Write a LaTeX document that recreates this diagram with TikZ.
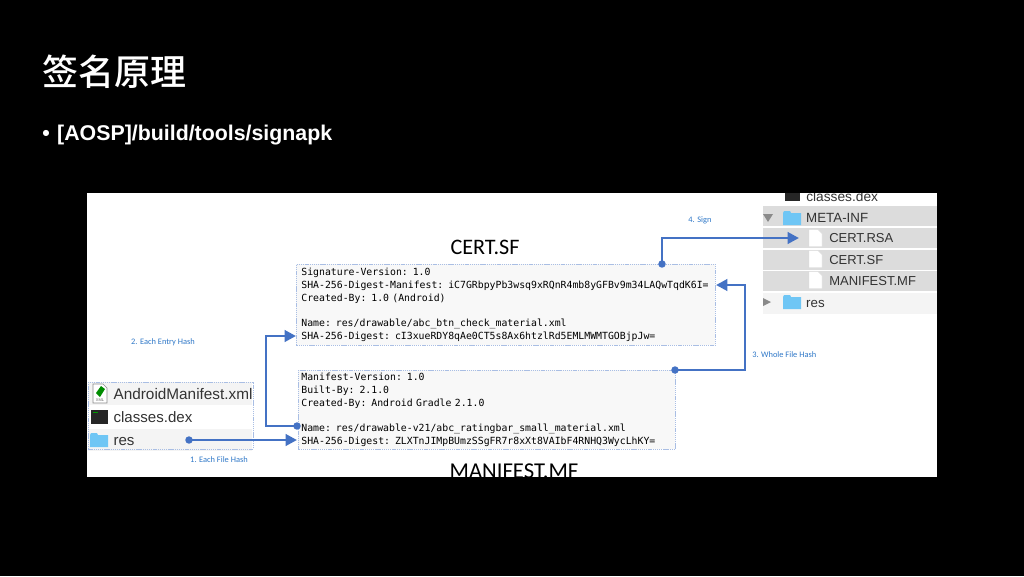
\documentclass[tikz,border=0pt]{standalone}
\usepackage{fontspec}
\usepackage{xcolor}
\usetikzlibrary{arrows.meta,positioning}
\setmainfont{Liberation Sans}
\setmonofont{DejaVu Sans Mono}
\newfontfamily\cjkfont{Noto Sans CJK SC}[BoldFont=* Medium]
\newfontfamily\slidefont{Carlito}
\definecolor{SigBlue}{HTML}{4472C4}
\definecolor{SigLabel}{HTML}{2F78C8}
\definecolor{SigEdge}{HTML}{A9BEE4}
\definecolor{SigPaper}{HTML}{F8F8F8}
\definecolor{SigRow}{HTML}{F4F4F4}
\definecolor{SigSel}{HTML}{DCDCDC}
\definecolor{SigFolder}{HTML}{6FC6F5}
\definecolor{SigGray}{HTML}{8A8A8A}

\begin{document}
\begin{tikzpicture}[
    x=0.75pt,y=-0.75pt,
    node distance=1.5pt and 0pt,
    edgeline/.style={draw=SigEdge,dash pattern=on 1pt off 0.6pt,line width=0.6pt},
    codebox/.style={edgeline,fill=SigPaper,
                align=left,anchor=north west,inner xsep=1pt,inner ysep=0pt,
                font=\ttfamily\fontsize{7.37}{9.6}\selectfont,text=black},
    filerow/.style={anchor=north west,inner sep=0pt,minimum width=130.5pt},
    leftrow/.style={anchor=north west,inner sep=0pt,minimum width=123pt,minimum height=16.8pt},
    filename/.style={anchor=west,inner sep=0pt,text=black!80},
    heading/.style={font=\slidefont\fontsize{16.6}{18}\selectfont,text=black,inner sep=0pt},
    steplabel/.style={font=\slidefont\fontsize{6.3}{8}\selectfont,text=SigLabel,inner sep=0pt},
    flowdot/.style={circle,fill=SigBlue,inner sep=0pt,minimum size=5.6pt},
    flow/.style={-{Triangle[length=8.5pt,width=8.5pt]},SigBlue,line width=2.2pt},
    folderpic/.pic={
      \fill[SigFolder] (0,2) -- (0,14) -- (18,14) -- (18,2) -- (8,2) -- (7,0) -- (1,0) -- cycle;
    },
    docpic/.pic={
      \fill[white,draw=black!15,line width=0.3pt] (0,0) -- (9,0) -- (13,4) -- (13,17) -- (0,17) -- cycle;
    }]

    \fill[black] (0,0) rectangle (1024,576);

    \node[anchor=base west,inner sep=0pt,text=white,
          font=\cjkfont\bfseries\fontsize{27}{30}\selectfont] (title) at (42,85) {签名原理};
    \node[anchor=base west,inner sep=0pt,text=white,
          font=\bfseries\fontsize{16}{18}\selectfont] (path) at (42,140)
      {•\hspace{1.2pt} [AOSP]/build/tools/signapk};

    \begin{scope}
      \clip (87,193) rectangle (937,477);
      \fill[white] (87,193) rectangle (937,477);

      % finder panel on the right
      \fill[black!85] (785,190) rectangle (800,201);
      \node[filename,font=\fontsize{10.3}{11}\selectfont] (dexout) at (806,197) {classes.dex};
      \node[filerow,fill=SigSel,minimum height=15pt] (rowmeta) at (763,206) {};
      \node[filerow,fill=SigSel,minimum height=15pt,below=1pt of rowmeta.south west,anchor=north west] (rowrsa) {};
      \node[filerow,fill=SigSel,minimum height=15pt,below=0.8pt of rowrsa.south west,anchor=north west] (rowsf) {};
      \node[filerow,fill=SigSel,minimum height=15pt,below=0.8pt of rowsf.south west,anchor=north west] (rowmf) {};
      \node[filerow,fill=SigRow,minimum height=16pt,below=0.8pt of rowmf.south west,anchor=north west] (rowres) {};

      \fill[SigGray] (763,214) -- (773,214) -- (768,222) -- cycle;
      \fill[SigGray] (763,298) -- (771,302) -- (763,306) -- cycle;
      \pic at (783,211) {folderpic};
      \pic at (783,295) {folderpic};
      \pic at (809,229.5) {docpic};
      \pic at (809,250.5) {docpic};
      \pic at (809,271.5) {docpic};

      \node[filename,font=\fontsize{10}{11}\selectfont,xshift=32.2pt,yshift=-1pt] at (rowmeta.west) (metaname) {META-INF};
      \node[filename,font=\fontsize{9.75}{11}\selectfont,xshift=49.5pt] at (rowrsa.west) (rsaname) {CERT.RSA};
      \node[filename,font=\fontsize{9.75}{11}\selectfont,xshift=49.5pt] at (rowsf.west) (sfname) {CERT.SF};
      \node[filename,font=\fontsize{9.75}{11}\selectfont,xshift=49.5pt] at (rowmf.west) (mfname) {MANIFEST.MF};
      \node[filename,font=\fontsize{10}{11}\selectfont,xshift=32.2pt] at (rowres.west) (resname) {res};

      % file list on the left
      \node[leftrow,fill=SigRow,minimum height=17.2pt] (rowapk) at (88,382) {};
      \node[leftrow,fill=white,below=0pt of rowapk.south west,anchor=north west] (rowdex) {};
      \node[leftrow,fill=SigRow,below=0pt of rowdex.south west,anchor=north west] (rowfolder) {};
      \draw[edgeline] (88,382) rectangle (253,449);

      \fill[white,draw=black!45,line width=0.4pt] (93,384) -- (103,384) -- (107,388) -- (107,403) -- (93,403) -- cycle;
      \fill[green!55!black] (96,393) -- (101,386) -- (105,389) -- (100,397) -- cycle;
      \node[inner sep=0pt,text=black!60,font=\fontsize{3}{3}\selectfont] (xmlmark) at (100,400) {XML};
      \fill[black!85] (91,410) rectangle (108,424);
      \fill[green!60!black] (93,412) rectangle (98,413);
      \pic at (90,433) {folderpic};

      \node[filename,font=\fontsize{11.5}{13}\selectfont,xshift=19pt,yshift=-0.5pt] at (rowapk.west) (apkname) {AndroidManifest.xml};
      \node[filename,font=\fontsize{11.3}{13}\selectfont,xshift=19pt,yshift=-0.5pt] at (rowdex.west) (dexname) {classes.dex};
      \node[filename,font=\fontsize{11.3}{13}\selectfont,xshift=19pt,yshift=-1pt] at (rowfolder.west) (foldername) {res};

      % the two text files
      \node[codebox,minimum width=314.25pt,minimum height=60.75pt,text width=306.75pt] (certbox) at (296,264)
        {Signature-Version: 1.0\\
         SHA-256-Digest-Manifest: iC7GRbpyPb3wsq9xRQnR4mb8yGFBv9m34LAQwTqdK6I=\\
         Created-By: 1.0 (Android)\\
         \mbox{}\\
         Name: res/drawable/abc\_btn\_check\_material.xml\\
         SHA-256-Digest: cI3xueRDY8qAe0CT5s8Ax6htzlRd5EMLMWMTGOBjpJw=};
      \node[codebox,minimum width=282.75pt,minimum height=59.25pt,text width=278.25pt] (manibox) at (298,370)
        {Manifest-Version: 1.0\\
         Built-By: 2.1.0\\
         Created-By: Android Gradle 2.1.0\\
         \mbox{}\\
         Name: res/drawable-v21/abc\_ratingbar\_small\_material.xml\\
         SHA-256-Digest: ZLXTnJIMpBUmzSSgFR7r8xXt8VAIbF4RNHQ3WycLhKY=};

      \node[heading] (certtitle) at (485,247) {CERT.SF};
      \node[heading,font=\slidefont\fontsize{17}{18}\selectfont] (manititle) at (514,471) {MANIFEST.MF};

      \node[steplabel] (stepone) at (219,460) {1. Each File Hash};
      \node[steplabel] (steptwo) at (163,342) {2. Each Entry Hash};
      \node[steplabel,anchor=west] (stepthree) at (752,355) {3. Whole File Hash};
      \node[steplabel] (stepfour) at (700,220) {4. Sign};

      \node[flowdot] (filedot) at (189,440) {};
      \node[flowdot] (entrydot) at (297,426) {};
      \node[flowdot] (wholedot) at (675,370) {};
      \node[flowdot] (signdot) at (662,264) {};
      \coordinate (filetip) at (297,440);
      \coordinate (entrytip) at (296,336);
      \coordinate (wholetip) at (716,285);
      \coordinate (signtip) at (799,238);

      \draw[flow] (filedot.center) -- (filetip);
      \draw[flow] (entrydot.center) -| (266,336) -- (entrytip);
      \draw[flow] (wholedot.center) -| (745,285) -- (wholetip);
      \draw[flow] (signdot.center) |- (signtip);
    \end{scope}
\end{tikzpicture}
\end{document}
